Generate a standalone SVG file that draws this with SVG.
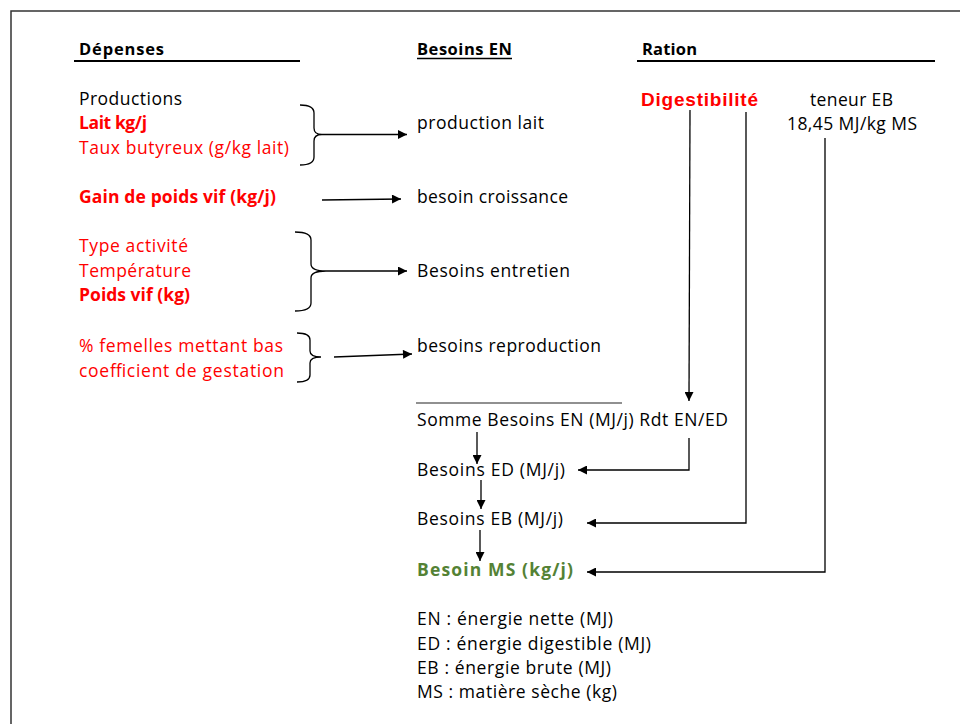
<svg xmlns="http://www.w3.org/2000/svg" width="960" height="724" viewBox="0 0 960 724">
<style>
text{font-family:"Open Sans","Liberation Sans",sans-serif;font-size:17.5px;fill:#000}
.b{font-weight:bold}
.r{fill:#ff0000}
.g{fill:#548235;font-weight:bold}
.h{font-weight:bold;font-size:16.5px}
.ln{stroke:#000;stroke-width:1.3;fill:none}
.br{stroke:#000;stroke-width:1.3;fill:none}
</style>
<defs>
<marker id="ah" viewBox="0 0 10 10" refX="10" refY="5" markerWidth="10" markerHeight="9" markerUnits="userSpaceOnUse" orient="auto">
<path d="M0,0 L10,5 L0,10 Z" fill="#000"/>
</marker>
</defs>
<rect width="960" height="724" fill="#fff"/>
<path d="M11,724 L11,11 L960,11" stroke="#333" stroke-width="1.5" fill="none"/>

<g id="headers">
<text class="h" x="79" y="55" textLength="85">Dépenses</text>
<line x1="74" y1="61" x2="300" y2="61" stroke="#000" stroke-width="2"/>
<text class="h" x="417" y="55" textLength="95">Besoins EN</text>
<line x1="417" y1="58.5" x2="512" y2="58.5" stroke="#000" stroke-width="1.3"/>
<text class="h" x="642" y="55" textLength="55">Ration</text>
<line x1="637" y1="61" x2="935" y2="61" stroke="#000" stroke-width="2"/>
</g>

<g id="productions">
<text x="79" y="105" textLength="103">Productions</text>
<text class="b r" x="79" y="129" textLength="68">Lait kg/j</text>
<text class="r" x="79" y="154" textLength="210">Taux butyreux (g/kg lait)</text>
<path class="br" d="M300,105 Q314,105 314,113 L314,128 Q314,134.5 322,134.5 Q314,134.5 314,141 L314,157 Q314,165 300,165"/>
</g>
<g id="gain"><text class="b r" x="79" y="203" textLength="197">Gain de poids vif (kg/j)</text></g>
<g id="entretien-inputs">
<text class="r" x="79" y="252" textLength="109">Type activité</text>
<text class="r" x="79" y="277" textLength="112">Température</text>
<text class="b r" x="79" y="301" textLength="111">Poids vif (kg)</text>
<path class="br" d="M295,232 Q311,232 311,240 L311,264 Q311,271 326,271 Q311,271 311,278 L311,303 Q311,311 295,311"/>
</g>
<g id="repro-inputs">
<text class="r" x="79" y="352" textLength="204">% femelles mettant bas</text>
<text class="r" x="79" y="377" textLength="205">coefficient de gestation</text>
<path class="br" d="M297,333 Q310,333 310,340 L310,351 Q310,357 321,357 Q310,357 310,363 L310,375 Q310,382 297,382"/>
</g>

<g id="besoins">
<text x="417" y="129" textLength="127">production lait</text>
<text x="417" y="203" textLength="151">besoin croissance</text>
<text x="417" y="277" textLength="153">Besoins entretien</text>
<text x="417" y="352" textLength="184">besoins reproduction</text>
<line x1="416" y1="403" x2="622" y2="403" stroke="#222" stroke-width="1.2"/>
<text x="417" y="426" textLength="311">Somme Besoins EN (MJ/j) Rdt EN/ED</text>
<text x="417" y="476" textLength="148">Besoins ED (MJ/j)</text>
<text x="417" y="525" textLength="146">Besoins EB (MJ/j)</text>
<text class="g" x="417" y="576" textLength="156">Besoin MS (kg/j)</text>
</g>

<g id="ration">
<text x="641" y="106" textLength="117" style="font-family:'Liberation Sans',Arial,sans-serif;font-weight:bold;font-size:19px;fill:#ff0000">Digestibilité</text>
<text x="810" y="106" textLength="83">teneur EB</text>
<text x="787" y="130" textLength="130">18,45 MJ/kg MS</text>
</g>

<g id="legend">
<text x="417" y="625" textLength="196">EN : énergie nette (MJ)</text>
<text x="417" y="650" textLength="234">ED : énergie digestible (MJ)</text>
<text x="417" y="674" textLength="194">EB : énergie brute (MJ)</text>
<text x="417" y="698" textLength="200">MS : matière sèche (kg)</text>
</g>

<g id="connectors">
<line class="ln" x1="322" y1="134.5" x2="407" y2="134.5" marker-end="url(#ah)"/>
<line class="ln" x1="322" y1="200" x2="401" y2="199" marker-end="url(#ah)"/>
<line class="ln" x1="326" y1="271" x2="407" y2="271" marker-end="url(#ah)"/>
<line class="ln" x1="334" y1="357" x2="412" y2="354" marker-end="url(#ah)"/>
<line class="ln" x1="690" y1="110" x2="689" y2="401" marker-end="url(#ah)"/>
<polyline class="ln" points="689,438 689,470 578,470" marker-end="url(#ah)"/>
<polyline class="ln" points="746,112 746,523 587,523" marker-end="url(#ah)"/>
<polyline class="ln" points="825,138 825,572 587,572" marker-end="url(#ah)"/>
<line class="ln" x1="477" y1="432" x2="477" y2="464" marker-end="url(#ah)"/>
<line class="ln" x1="481" y1="480" x2="481" y2="509" marker-end="url(#ah)"/>
<line class="ln" x1="480" y1="530" x2="480" y2="561" marker-end="url(#ah)"/>
</g>
</svg>
